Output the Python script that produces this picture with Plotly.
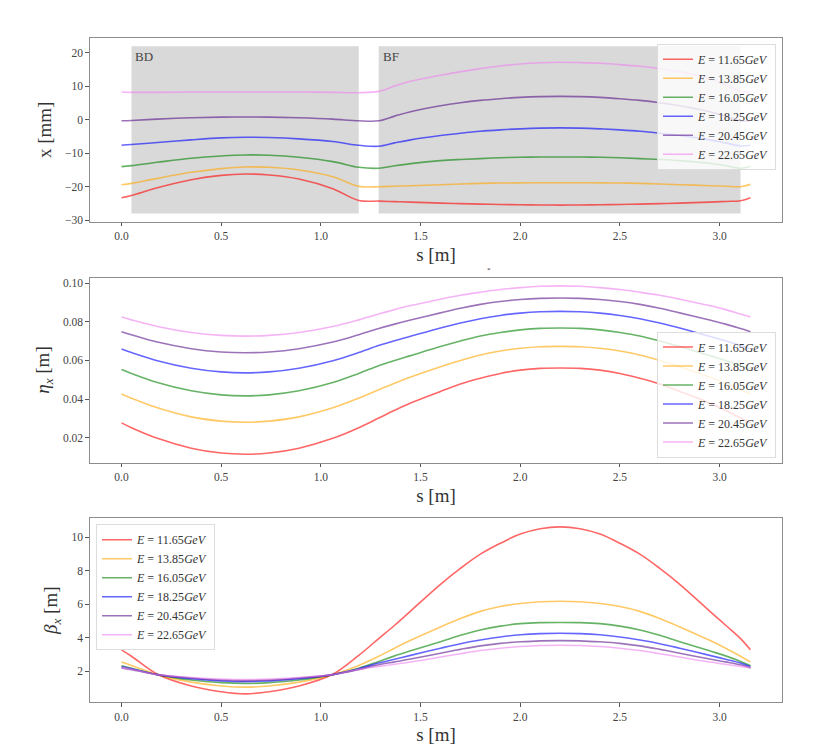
import plotly.graph_objects as go
from plotly.subplots import make_subplots

# longitudinal position along the cell [m]
S = [0.0, 0.05, 0.18, 0.35, 0.5, 0.62, 0.74, 0.89, 1.06, 1.19, 1.29,
     1.37, 1.45, 1.6, 1.7, 1.8, 1.9, 2.0, 2.1, 2.2, 2.3, 2.4, 2.5, 2.6, 2.7, 2.8,
     2.95, 3.03, 3.105, 3.155]

ENERGIES = ["11.65", "13.85", "16.05", "18.25", "20.45", "22.65"]

# closed orbit x [mm]
X_1165 = [-23.3, -22.6, -20.3, -17.9, -16.6, -16.2, -16.5, -17.7, -20.6, -24.1, -24.3,
          -24.45, -24.6, -24.9, -25.05, -25.2, -25.3, -25.4, -25.45, -25.5, -25.45, -25.4, -25.3,
          -25.2, -25.05, -24.9, -24.6, -24.4, -24.2, -23.3]
X_1385 = [-19.4, -19.0, -17.5, -15.7, -14.6, -14.1, -14.2, -15.0, -17.0, -19.9, -20.0,
          -19.85, -19.7, -19.4, -19.2, -19.0, -18.9, -18.85, -18.8, -18.8, -18.8, -18.85, -18.9,
          -19.0, -19.2, -19.4, -19.7, -19.85, -20.0, -19.3]
X_1605 = [-14.0, -13.7, -12.7, -11.5, -10.8, -10.5, -10.6, -11.2, -12.5, -14.2, -14.5,
          -13.75, -13.1, -12.2, -11.85, -11.6, -11.35, -11.2, -11.12, -11.1, -11.12, -11.2, -11.35,
          -11.6, -11.85, -12.2, -13.0, -13.7, -14.5, -13.9]
X_1825 = [-7.6, -7.4, -6.8, -6.0, -5.4, -5.2, -5.3, -5.7, -6.5, -7.6, -7.9,
          -6.9, -6.0, -4.7, -4.0, -3.4, -3.0, -2.7, -2.48, -2.4, -2.48, -2.7, -3.0,
          -3.4, -4.0, -4.7, -6.0, -6.9, -7.8, -7.6]
X_2045 = [-0.3, -0.2, 0.2, 0.6, 0.8, 0.85, 0.8, 0.6, 0.2, -0.3, -0.3,
          1.1, 2.4, 4.2, 5.1, 5.8, 6.3, 6.7, 6.92, 7.0, 6.92, 6.7, 6.3,
          5.8, 5.1, 4.2, 2.4, 1.1, -0.3, -0.3]
X_2265 = [8.3, 8.2, 8.2, 8.3, 8.3, 8.3, 8.3, 8.3, 8.2, 8.1, 8.5,
          10.1, 11.5, 13.3, 14.4, 15.3, 16.1, 16.7, 17.05, 17.2, 17.1, 16.9, 16.5,
          16.0, 15.3, 14.4, 12.3, 10.5, 8.5, 8.3]

# dispersion eta_x [m]
ETA_1165 = [0.0277, 0.0252, 0.0197, 0.0146, 0.0121, 0.0115, 0.0121, 0.0146, 0.0197, 0.0252, 0.0302,
            0.0342, 0.0380, 0.0440, 0.0478, 0.0508, 0.0533, 0.0550, 0.0559, 0.0561, 0.0559, 0.0550,
            0.0533, 0.0508, 0.0478, 0.0440, 0.0380, 0.0342, 0.0302, 0.0277]
ETA_1385 = [0.0427, 0.0405, 0.0355, 0.0308, 0.0286, 0.0280, 0.0286, 0.0308, 0.0355, 0.0405, 0.0449,
            0.0482, 0.0514, 0.0568, 0.0600, 0.0628, 0.0649, 0.0663, 0.0671, 0.0673, 0.0671, 0.0663,
            0.0649, 0.0628, 0.0600, 0.0568, 0.0514, 0.0482, 0.0449, 0.0427]
ETA_1605 = [0.0553, 0.0533, 0.0486, 0.0443, 0.0422, 0.0417, 0.0422, 0.0443, 0.0486, 0.0533, 0.0573,
            0.0600, 0.0625, 0.0672, 0.0701, 0.0727, 0.0745, 0.0758, 0.0766, 0.0768, 0.0766, 0.0758,
            0.0745, 0.0727, 0.0701, 0.0672, 0.0625, 0.0600, 0.0573, 0.0553]
ETA_1825 = [0.0659, 0.0641, 0.0599, 0.0560, 0.0541, 0.0536, 0.0541, 0.0560, 0.0599, 0.0641, 0.0677,
            0.0702, 0.0725, 0.0768, 0.0794, 0.0816, 0.0833, 0.0845, 0.0852, 0.0854, 0.0852, 0.0845,
            0.0833, 0.0816, 0.0794, 0.0768, 0.0725, 0.0702, 0.0677, 0.0659]
ETA_2045 = [0.0749, 0.0733, 0.0695, 0.0661, 0.0644, 0.0640, 0.0644, 0.0661, 0.0695, 0.0733, 0.0765,
            0.0788, 0.0809, 0.0846, 0.0870, 0.0890, 0.0905, 0.0915, 0.0921, 0.0923, 0.0921, 0.0915,
            0.0905, 0.0890, 0.0870, 0.0846, 0.0809, 0.0788, 0.0765, 0.0749]
ETA_2265 = [0.0825, 0.0810, 0.0776, 0.0745, 0.0730, 0.0726, 0.0730, 0.0745, 0.0776, 0.0810, 0.0840,
            0.0863, 0.0884, 0.0917, 0.0937, 0.0953, 0.0967, 0.0977, 0.0984, 0.0986, 0.0984, 0.0977,
            0.0967, 0.0953, 0.0937, 0.0917, 0.0884, 0.0863, 0.0840, 0.0825]

# beta function beta_x [m]
BETA_1165 = [3.28, 2.9, 1.82, 1.12, 0.78, 0.65, 0.78, 1.12, 1.82, 2.95, 3.95,
             4.75, 5.6, 7.2, 8.15, 9.0, 9.65, 10.2, 10.52, 10.63, 10.52, 10.2, 9.65,
             9.0, 8.15, 7.2, 5.6, 4.75, 3.95, 3.28]
BETA_1385 = [2.55, 2.35, 1.8, 1.35, 1.12, 1.05, 1.12, 1.35, 1.8, 2.35, 2.9,
             3.38, 3.85, 4.65, 5.15, 5.58, 5.87, 6.05, 6.16, 6.19, 6.16, 6.05, 5.87,
             5.58, 5.15, 4.65, 3.85, 3.38, 2.9, 2.55]
BETA_1605 = [2.33, 2.18, 1.8, 1.48, 1.32, 1.27, 1.32, 1.48, 1.8, 2.18, 2.59,
             2.92, 3.22, 3.77, 4.15, 4.47, 4.70, 4.85, 4.91, 4.92, 4.91, 4.85, 4.70,
             4.47, 4.15, 3.77, 3.22, 2.92, 2.59, 2.33]
BETA_1825 = [2.27, 2.15, 1.8, 1.55, 1.42, 1.38, 1.42, 1.55, 1.8, 2.15, 2.49,
             2.72, 2.95, 3.38, 3.65, 3.87, 4.05, 4.18, 4.25, 4.27, 4.25, 4.18, 4.05,
             3.87, 3.65, 3.38, 2.95, 2.72, 2.49, 2.27]
BETA_2045 = [2.2, 2.1, 1.8, 1.6, 1.48, 1.44, 1.48, 1.6, 1.8, 2.1, 2.39,
             2.56, 2.73, 3.08, 3.31, 3.52, 3.67, 3.76, 3.82, 3.83, 3.82, 3.76, 3.67,
             3.52, 3.31, 3.08, 2.73, 2.56, 2.39, 2.2]
BETA_2265 = [2.22, 2.12, 1.8, 1.63, 1.53, 1.5, 1.53, 1.63, 1.8, 2.12, 2.29,
             2.42, 2.55, 2.85, 3.05, 3.24, 3.38, 3.48, 3.54, 3.56, 3.54, 3.48, 3.38,
             3.24, 3.05, 2.85, 2.55, 2.42, 2.29, 2.22]

# magnets drawn as grey boxes in the orbit panel
MAGNETS = ["BD", "BF"]
MAGNET_START = [0.05, 1.29]
MAGNET_END = [1.19, 3.105]
MAGNET_BOTTOM = -28
MAGNET_TOP = 22

ORBITS = [X_1165, X_1385, X_1605, X_1825, X_2045, X_2265]
ETAS = [ETA_1165, ETA_1385, ETA_1605, ETA_1825, ETA_2045, ETA_2265]
BETAS = [BETA_1165, BETA_1385, BETA_1605, BETA_1825, BETA_2045, BETA_2265]

COLORS = ["rgba(255,0,0,0.6)", "rgba(255,165,0,0.6)", "rgba(0,128,0,0.6)",
          "rgba(0,0,255,0.6)", "rgba(75,0,130,0.55)", "rgba(238,130,238,0.6)"]

FONT = "Liberation Serif, DejaVu Serif, serif"

# the page body has an 8px margin, so the figure is shrunk and shifted by it
OFF = 8
W, H = 815 - 2 * OFF, 753 - 2 * OFF


def px_x(p):
    return (p - OFF) / W


def px_y(p):
    return 1 - (p - OFF) / H


fig = make_subplots(rows=3, cols=1)

panels = [(ORBITS, "legend"), (ETAS, "legend2"), (BETAS, "legend3")]
for row, (series, leg) in enumerate(panels, start=1):
    for e, ys, c in zip(ENERGIES, series, COLORS):
        fig.add_trace(go.Scatter(
            x=S, y=ys, mode="lines", line=dict(color=c, width=1.6, shape="spline", smoothing=1.0),
            name=f"<i>E</i> = {e}<i>GeV</i>", legend=leg,
        ), row=row, col=1)

for name, x0, x1 in zip(MAGNETS, MAGNET_START, MAGNET_END):
    fig.add_shape(type="rect", x0=x0, x1=x1, y0=MAGNET_BOTTOM, y1=MAGNET_TOP,
                  xref="x", yref="y", fillcolor="#d9d9d9", line_width=0, layer="below")
    fig.add_annotation(x=x0 + 0.01, y=MAGNET_TOP - 3, xref="x", yref="y", text=name,
                       showarrow=False, xanchor="left", yanchor="middle",
                       font=dict(family=FONT, size=13, color="#444"))

# stray little mark between the first two panels
fig.add_annotation(x=px_x(489), y=px_y(271), xref="paper", yref="paper", text="*",
                   showarrow=False, font=dict(family=FONT, size=7, color="#333"))

axis_style = dict(showline=True, linecolor="#8c8c8c", linewidth=1.2, mirror=True,
                  ticks="outside", ticklen=3.5, tickcolor="#555", showgrid=False, zeroline=False,
                  tickfont=dict(family=FONT, size=11.5, color="#444"))

x_dom = [px_x(90), px_x(782)]
y_doms = [[px_y(223), px_y(38)], [px_y(465), px_y(279)], [px_y(706), px_y(521)]]
y_titles = ["x [mm]", "<i>η<sub>x</sub></i> [m]", "<i>β<sub>x</sub></i> [m]"]
y_ranges = [[-30.5, 24.5], [0.0072, 0.1029], [0.15, 11.15]]
y_ticks = [[-30, -20, -10, 0, 10, 20], [0.02, 0.04, 0.06, 0.08, 0.10], [2, 4, 6, 8, 10]]
y_fmt = ["d", ".2f", "d"]

for i in range(3):
    fig.update_xaxes(axis_style, row=i + 1, col=1, domain=x_dom, range=[-0.158, 3.313],
                     tickvals=[0, 0.5, 1, 1.5, 2, 2.5, 3], tickformat=".1f",
                     title=dict(text="s [m]", font=dict(family=FONT, size=19, color="#333"), standoff=6))
    fig.update_yaxes(axis_style, row=i + 1, col=1, domain=y_doms[i], range=y_ranges[i],
                     tickvals=y_ticks[i], tickformat=y_fmt[i],
                     title=dict(text=y_titles[i], font=dict(family=FONT, size=19, color="#333"), standoff=8))

legend_style = dict(bgcolor="rgba(255,255,255,0.8)", bordercolor="#dddddd", borderwidth=1,
                    font=dict(family=FONT, size=12, color="#333"), tracegroupgap=0,
                    itemwidth=30)

fig.update_layout(
    width=W, height=H,
    margin=dict(l=0, r=0, t=0, b=0),
    paper_bgcolor="white", plot_bgcolor="white",
    showlegend=True,
    legend=dict(legend_style, x=px_x(776), y=px_y(44), xanchor="right", yanchor="top"),
    legend2=dict(legend_style, x=px_x(776), y=px_y(460), xanchor="right", yanchor="bottom"),
    legend3=dict(legend_style, x=px_x(96), y=px_y(527), xanchor="left", yanchor="top"),
)

fig.write_html("out.html")
